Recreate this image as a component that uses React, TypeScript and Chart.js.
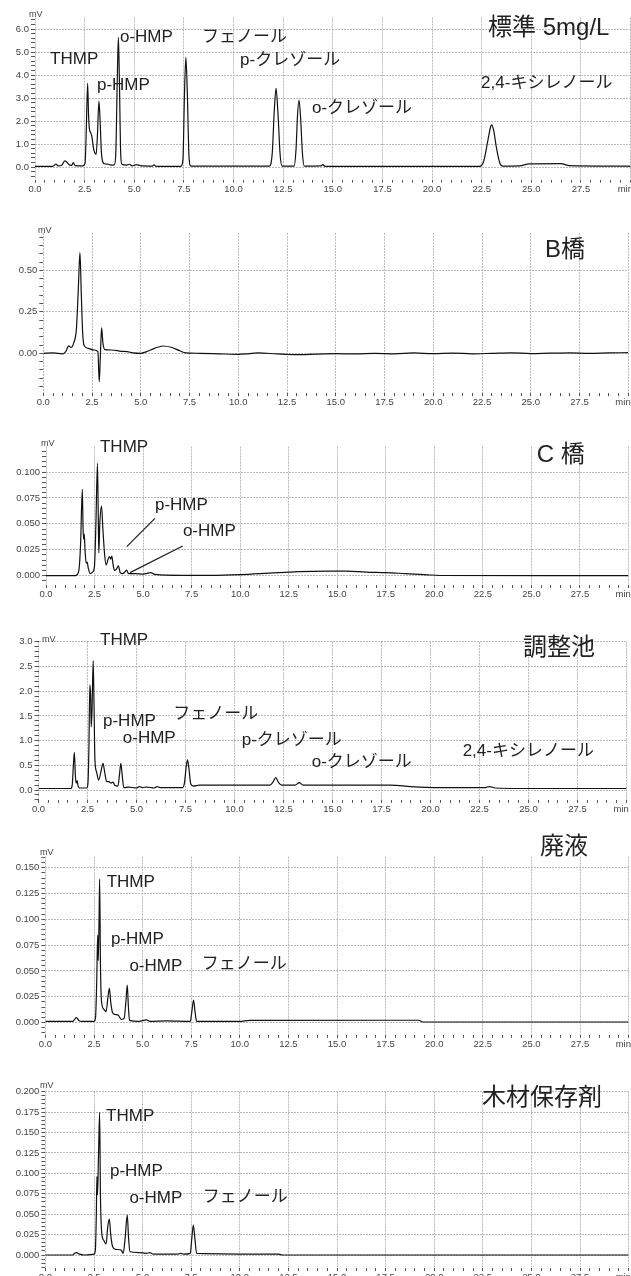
import React, { useEffect, useRef } from 'react';
import { Chart, registerables } from 'chart.js';

Chart.register(...registerables);

// ---------------- DATA (time in min, signal in mV) ----------------
const standardTrace: [number, number][] = [
  [0, 0.03], [0.9, 0.03], [1.0, 0.1], [1.06, 0.13], [1.15, 0.05], [1.35, 0.08], [1.5, 0.27], [1.62, 0.2], [1.75, 0.08],
  [1.85, 0.07], [1.93, 0.19], [2.02, 0.06], [2.4, 0.05], [2.52, 0.15], [2.58, 1.5], [2.65, 3.64], [2.7, 2.2], [2.75, 1.6],
  [2.8, 1.5], [2.87, 1.3], [2.95, 0.8], [3.02, 0.6], [3.08, 0.55], [3.14, 1.3], [3.22, 2.87], [3.28, 2.0], [3.34, 0.7],
  [3.41, 0.23], [3.5, 0.14], [3.7, 0.12], [3.85, 0.08], [4.0, 0.1], [4.07, 0.6], [4.14, 3.6], [4.2, 5.64], [4.25, 3.8],
  [4.32, 0.5], [4.38, 0.12], [4.6, 0.08], [4.75, 0.12], [4.9, 0.05], [5.1, 0.1], [5.3, 0.06], [5.9, 0.04], [6.0, 0.09],
  [6.1, 0.03], [7.35, 0.03], [7.45, 0.3], [7.53, 3.2], [7.6, 4.77], [7.67, 3.3], [7.76, 0.4], [7.85, 0.04], [11.8, 0.04],
  [11.95, 0.6], [12.05, 2.4], [12.14, 3.42], [12.24, 2.3], [12.35, 0.5], [12.45, 0.04], [13.05, 0.04], [13.15, 0.8],
  [13.22, 2.2], [13.3, 2.91], [13.38, 2.1], [13.47, 0.6], [13.56, 0.04], [14.4, 0.05], [14.5, 0.1], [14.6, 0.03],
  [22.4, 0.03], [22.6, 0.25], [22.8, 1.1], [22.95, 1.75], [23.0, 1.83], [23.1, 1.6], [23.25, 0.8], [23.42, 0.15],
  [23.55, 0.04], [24.4, 0.05], [24.9, 0.14], [26.5, 0.15], [26.9, 0.06], [29.4, 0.04], [30, 0.03],
];

const bBridgeTrace: [number, number][] = [
  [0, 0.0], [0.5, 0.002], [1.0, -0.003], [1.15, 0.01], [1.3, 0.045], [1.42, 0.035], [1.55, 0.06], [1.7, 0.15], [1.8, 0.4],
  [1.88, 0.606], [1.95, 0.35], [2.02, 0.12], [2.1, 0.045], [2.3, 0.03], [2.6, 0.02], [2.8, 0.01], [2.87, -0.171],
  [2.93, 0.0], [2.99, 0.154], [3.06, 0.06], [3.16, 0.022], [3.5, 0.02], [4.0, 0.012], [4.3, 0.01], [4.6, 0.003],
  [5.0, 0.0], [5.3, 0.01], [5.7, 0.03], [6.15, 0.044], [6.6, 0.035], [7.0, 0.015], [7.3, 0.003], [8.0, 0.0],
  [9.0, -0.003], [10.0, -0.006], [10.5, -0.003], [11.0, 0.002], [12.0, -0.004], [13.0, -0.008], [14.0, -0.005],
  [15.0, -0.002], [16, -0.004], [17, 0.0], [18, -0.003], [19, 0.002], [20, -0.002], [21, 0.001], [22, -0.003], [23, 0.0],
  [24, 0.003], [25, -0.002], [26, 0.001], [27, 0.003], [28, -0.001], [29, 0.002], [30, 0.004],
];

const cBridgeTrace: [number, number][] = [
  [0, 0], [1.5, 0], [1.6, 0.001], [1.7, 0.006], [1.78, 0.03], [1.87, 0.0833], [1.91, 0.045], [1.94, 0.035], [1.97, 0.04],
  [2.01, 0.025], [2.07, 0.012], [2.12, 0.013], [2.18, 0.007], [2.28, 0.002], [2.42, 0.004], [2.5, 0.01], [2.57, 0.05],
  [2.65, 0.1084], [2.69, 0.06], [2.72, 0.022], [2.77, 0.05], [2.86, 0.0672], [2.93, 0.045], [3.02, 0.02], [3.1, 0.0103],
  [3.2, 0.016], [3.27, 0.0183], [3.33, 0.016], [3.39, 0.019], [3.46, 0.01], [3.53, 0.005], [3.62, 0.006], [3.73, 0.0096],
  [3.82, 0.003], [3.95, 0.002], [4.08, 0.004], [4.15, 0.0055], [4.25, 0.002], [4.6, 0.002], [5.0, 0.0015], [5.4, 0.003],
  [5.6, 0.0012], [7.0, 0.0003], [8.5, 0.0003], [10.0, 0.001], [11.5, 0.0025], [13.0, 0.004], [14.5, 0.0045],
  [15.5, 0.0045], [16.5, 0.0035], [17.5, 0.003], [18.5, 0.002], [19.5, 0.001], [20.3, 0.0002], [30, 0.0001],
];

const pondTrace: [number, number][] = [
  [0, 0.03], [1.65, 0.03], [1.72, 0.1], [1.78, 0.5], [1.83, 0.76], [1.88, 0.3], [1.92, 0.14], [1.97, 0.19], [2.02, 0.08],
  [2.1, 0.04], [2.45, 0.04], [2.52, 0.12], [2.57, 0.8], [2.62, 2.13], [2.66, 1.9], [2.69, 1.28], [2.73, 1.6], [2.79, 2.62],
  [2.83, 1.8], [2.88, 0.6], [2.96, 0.37], [3.07, 0.2], [3.2, 0.4], [3.29, 0.54], [3.38, 0.35], [3.48, 0.17], [3.6, 0.17],
  [3.7, 0.14], [3.8, 0.16], [3.9, 0.09], [4.05, 0.08], [4.13, 0.3], [4.2, 0.54], [4.27, 0.3], [4.35, 0.05], [4.6, 0.06],
  [5.0, 0.04], [5.15, 0.07], [5.3, 0.05], [5.5, 0.06], [5.9, 0.04], [6.05, 0.07], [6.2, 0.05], [7.35, 0.05], [7.45, 0.15],
  [7.53, 0.45], [7.6, 0.61], [7.67, 0.45], [7.77, 0.12], [7.9, 0.08], [8.2, 0.1], [11.8, 0.1], [11.98, 0.17], [12.1, 0.25],
  [12.25, 0.15], [12.4, 0.1], [13.1, 0.1], [13.3, 0.15], [13.5, 0.1], [18.0, 0.1], [19.0, 0.067], [20.5, 0.047],
  [22.8, 0.05], [23.0, 0.07], [23.3, 0.04], [24.5, 0.03], [30, 0.03],
];

const wasteTrace: [number, number][] = [
  [0, 0.001], [1.4, 0.001], [1.5, 0.003], [1.6, 0.0047], [1.72, 0.002], [1.9, 0.001], [2.5, 0.001], [2.58, 0.005],
  [2.64, 0.04], [2.69, 0.0848], [2.72, 0.06], [2.76, 0.1], [2.79, 0.139], [2.83, 0.06], [2.88, 0.0218], [3.0, 0.013],
  [3.12, 0.0105], [3.22, 0.025], [3.29, 0.033], [3.36, 0.02], [3.45, 0.0098], [3.6, 0.0077], [3.75, 0.007], [3.9, 0.003],
  [4.05, 0.004], [4.14, 0.02], [4.21, 0.0363], [4.27, 0.015], [4.33, 0.002], [4.8, 0.001], [5.2, 0.0025], [5.4, 0.001],
  [6.2, 0.0015], [7.45, 0.001], [7.53, 0.01], [7.62, 0.0218], [7.7, 0.01], [7.78, 0.001], [10, 0.001], [10.5, 0.002],
  [19.2, 0.0022], [19.4, 0.0005], [30, 0.0005],
];

const woodTrace: [number, number][] = [
  [0, 0], [1.4, 0], [1.5, 0.002], [1.6, 0.003], [1.75, 0.001], [2.0, 0], [2.5, 0.001], [2.57, 0.006], [2.62, 0.05],
  [2.65, 0.096], [2.68, 0.0735], [2.73, 0.12], [2.79, 0.1748], [2.83, 0.075], [2.9, 0.0265], [3.0, 0.018], [3.12, 0.0135],
  [3.21, 0.035], [3.29, 0.044], [3.36, 0.025], [3.46, 0.01], [3.6, 0.007], [3.9, 0.006], [4.0, 0.002], [4.1, 0.02],
  [4.21, 0.049], [4.28, 0.02], [4.35, 0.004], [4.8, 0.003], [5.2, 0.002], [5.38, 0.003], [5.55, 0.001], [6.8, 0.001],
  [6.95, 0.002], [7.1, 0.001], [7.45, 0.002], [7.53, 0.02], [7.61, 0.0367], [7.69, 0.02], [7.78, 0.002], [12, 0.001],
  [12.2, 0], [30, 0],
];

// peak names
const THMP = 'THMP';
const PHMP = 'p-HMP';
const OHMP = 'o-HMP';
const PHENOL = 'フェノール';
const PCRESOL = 'p-クレゾール';
const OCRESOL = 'o-クレゾール';
const XYLENOL = '2,4-キシレノール';

// x tick labels
const xMajorStep = 2.5;
const xMinorStep = 0.5;
const xEndLabel = 'min';

// ---------------- PANEL SETUP ----------------
type Label = { text: string; t: number; v: number };
type Leader = { t1: number; v1: number; t2: number; v2: number };
type Panel = {
  title: string; titleAt: [number, number];
  trace: [number, number][];
  labels: Label[]; leaders: Leader[];
  ymin: number; ymax: number; major: number; minor: number; dec: number;
  top: number; h: number; x0: number; x30: number; zero: number; ppu: number; mvDx: number; mvDy: number;
};

const CW = 660;
const LATIN = "'Liberation Sans', Arial, sans-serif";
const MIXED = "'Liberation Sans', 'Noto Sans CJK JP', sans-serif";

const panels: Panel[] = [
  {
    title: '標準 5mg/L', titleAt: [22.82, 6.04], trace: standardTrace,
    labels: [
      { text: THMP, t: 0.76, v: 4.7 }, { text: OHMP, t: 4.28, v: 5.65 }, { text: PHMP, t: 3.12, v: 3.57 },
      { text: PHENOL, t: 8.41, v: 5.65 }, { text: PCRESOL, t: 10.33, v: 4.65 }, { text: OCRESOL, t: 13.95, v: 2.57 },
      { text: XYLENOL, t: 22.47, v: 3.65 },
    ], leaders: [],
    ymin: -0.55, ymax: 6.5, major: 1, minor: 0.2, dec: 1,
    top: 0, h: 200, x0: 35, x30: 630.6, zero: 167, ppu: 23, mvDx: -6, mvDy: -2.5,
  },
  {
    title: 'B橋', titleAt: [25.73, 0.622], trace: bBridgeTrace, labels: [], leaders: [],
    ymin: -0.24, ymax: 0.725, major: 0.25, minor: 0.05, dec: 2,
    top: 200, h: 210, x0: 43.3, x30: 628.3, zero: 353.3, ppu: 166, mvDx: -5.3, mvDy: -2,
  },
  {
    title: 'C 橋', titleAt: [25.28, 0.1164], trace: cBridgeTrace,
    labels: [
      { text: THMP, t: 2.78, v: 0.1236 }, { text: PHMP, t: 5.61, v: 0.0682 }, { text: OHMP, t: 7.05, v: 0.0426 },
    ],
    leaders: [
      { t1: 5.61, v1: 0.0553, t2: 4.16, v2: 0.028 },
      { t1: 7.04, v1: 0.0286, t2: 4.33, v2: 0.0029 },
    ],
    ymin: -0.009, ymax: 0.1245, major: 0.025, minor: 0.005, dec: 3,
    top: 410, h: 190, x0: 46, x30: 628.5, zero: 575.7, ppu: 1037, mvDx: -5, mvDy: -3.5,
  },
  {
    title: '調整池', titleAt: [24.72, 2.87], trace: pondTrace,
    labels: [
      { text: THMP, t: 3.14, v: 3.04 }, { text: PHMP, t: 3.29, v: 1.39 }, { text: OHMP, t: 4.3, v: 1.04 },
      { text: PHENOL, t: 6.87, v: 1.54 }, { text: PCRESOL, t: 10.37, v: 1.01 }, { text: OCRESOL, t: 13.94, v: 0.56 },
      { text: XYLENOL, t: 21.64, v: 0.79 },
    ], leaders: [],
    ymin: -0.2, ymax: 3.0, major: 0.5, minor: 0.1, dec: 1,
    top: 600, h: 215, x0: 38.5, x30: 626.5, zero: 790, ppu: 49.4, mvDx: 3.5, mvDy: -2.5,
  },
  {
    title: '廃液', titleAt: [25.44, 0.17], trace: wasteTrace,
    labels: [
      { text: THMP, t: 3.15, v: 0.136 }, { text: PHMP, t: 3.37, v: 0.0809 }, { text: OHMP, t: 4.32, v: 0.0547 },
      { text: PHENOL, t: 8.04, v: 0.0567 },
    ], leaders: [],
    ymin: -0.012, ymax: 0.1607, major: 0.025, minor: 0.005, dec: 3,
    top: 815, h: 235, x0: 45.4, x30: 628.6, zero: 1022.5, ppu: 1032, mvDx: -5.4, mvDy: -4.5,
  },
  {
    title: '木材保存剤', titleAt: [22.46, 0.1923], trace: woodTrace,
    labels: [
      { text: THMP, t: 3.12, v: 0.17 }, { text: PHMP, t: 3.32, v: 0.1029 }, { text: OHMP, t: 4.32, v: 0.0694 },
      { text: PHENOL, t: 8.09, v: 0.071 },
    ], leaders: [],
    ymin: -0.016, ymax: 0.2, major: 0.025, minor: 0.005, dec: 3,
    top: 1050, h: 240, x0: 45.4, x30: 628.6, zero: 1255, ppu: 816.5, mvDx: -5.4, mvDy: -6.5,
  },
];

const isMultiple = (v: number, step: number) => Math.abs(v / step - Math.round(v / step)) < 1e-6;
const GRID = '#b9b9b9';
const XAXIS_H = 20;
const END_PAD = '\u00a0\u00a0\u00a0\u00a0';

function ChromChart({ p }: { p: Panel }) {
  const ref = useRef<HTMLCanvasElement | null>(null);
  useEffect(() => {
    if (!ref.current) return;
    const plotTop = p.zero - p.ymax * p.ppu - p.top;
    const plotBottom = p.zero - p.ymin * p.ppu - p.top;
    const textPlugin = {
      id: 'chromText',
      afterDraw(chart: any) {
        const { ctx, chartArea, scales } = chart;
        const xs = scales.x, ys = scales.y;
        ctx.save();
        ctx.textAlign = 'left';
        ctx.textBaseline = 'middle';
        ctx.fillStyle = '#444';
        ctx.font = `9px ${LATIN}`;
        ctx.fillText('mV', chartArea.left + p.mvDx, chartArea.top + p.mvDy);
        ctx.fillStyle = '#222';
        ctx.font = `17px ${MIXED}`;
        for (const l of p.labels) {
          ctx.fillText(l.text, xs.getPixelForValue(l.t), ys.getPixelForValue(l.v));
        }
        ctx.font = `24px ${MIXED}`;
        ctx.fillText(p.title, xs.getPixelForValue(p.titleAt[0]), ys.getPixelForValue(p.titleAt[1]));
        ctx.strokeStyle = '#222';
        ctx.lineWidth = 1.3;
        for (const ld of p.leaders) {
          ctx.beginPath();
          ctx.moveTo(xs.getPixelForValue(ld.t1), ys.getPixelForValue(ld.v1));
          ctx.lineTo(xs.getPixelForValue(ld.t2), ys.getPixelForValue(ld.v2));
          ctx.stroke();
        }
        ctx.restore();
      },
    };
    const chart = new Chart(ref.current, {
      type: 'scatter',
      data: {
        datasets: [{
          data: p.trace.map(([x, y]) => ({ x, y })),
          showLine: true,
          borderColor: '#111',
          borderWidth: 1.2,
          pointRadius: 0,
          cubicInterpolationMode: 'monotone',
          fill: false,
        } as any],
      },
      options: {
        animation: false,
        responsive: false,
        events: [],
        layout: {
          padding: {
            left: 0,
            top: plotTop,
            right: CW - p.x30,
            bottom: p.h - plotBottom - XAXIS_H,
          },
        },
        plugins: { legend: { display: false }, tooltip: { enabled: false } },
        scales: {
          x: {
            type: 'linear', min: 0, max: 30,
            afterFit: (s: any) => { s.height = XAXIS_H; },
            border: { display: false, dash: [2, 1] },
            grid: {
              color: (c: any) => (isMultiple(c.tick.value, xMajorStep) ? GRID : 'rgba(0,0,0,0)'),
              tickColor: '#555', tickLength: 3, lineWidth: 1,
            },
            ticks: {
              stepSize: xMinorStep, autoSkip: false, maxRotation: 0, minRotation: 0, padding: 1,
              color: '#444', font: { size: 9.5, family: LATIN },
              callback: (v: any) => (Math.abs(v - 30) < 1e-6 ? xEndLabel + END_PAD : isMultiple(v, xMajorStep) ? Number(v).toFixed(1) : ''),
            },
          },
          y: {
            type: 'linear', min: p.ymin, max: p.ymax,
            afterFit: (s: any) => { s.width = p.x0; },
            border: { display: false, dash: [2, 1] },
            grid: {
              color: (c: any) => (isMultiple(c.tick.value, p.major) ? GRID : 'rgba(0,0,0,0)'),
              tickColor: '#555', tickLength: 4, lineWidth: 1,
            },
            ticks: {
              stepSize: p.minor, includeBounds: false, autoSkip: false, padding: 2,
              color: '#444', font: { size: 9.5, family: LATIN },
              callback: (v: any) => (isMultiple(v, p.major) ? Number(v).toFixed(p.dec) : ''),
            } as any,
          },
        },
      } as any,
      plugins: [textPlugin],
    });
    return () => chart.destroy();
  }, [p]);
  return (
    <canvas
      ref={ref}
      width={CW}
      height={p.h}
      style={{ position: 'absolute', left: 0, top: p.top, width: CW, height: p.h }}
    />
  );
}

export default function App() {
  return (
    <div style={{ position: 'absolute', left: 0, top: 0, width: 631, height: 1276, overflow: 'hidden', background: '#fff' }}>
      {panels.map((p, i) => <ChromChart key={i} p={p} />)}
    </div>
  );
}
